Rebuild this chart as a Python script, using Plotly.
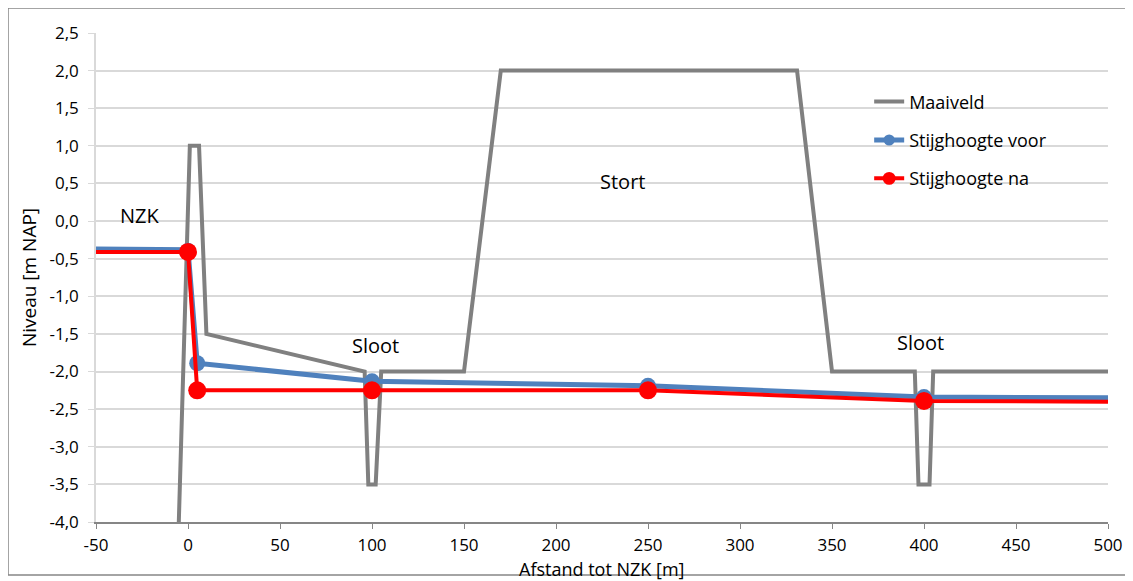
import plotly.graph_objects as go

# Maaiveld (ground level) profile
maaiveld_x = [-5, 1, 6, 10, 96, 98, 102, 105, 150, 170, 331, 350, 395, 397, 403, 405, 500]
maaiveld_y = [-4.0, 1.0, 1.0, -1.5, -2.0, -3.5, -3.5, -2.0, -2.0, 2.0, 2.0, -2.0, -2.0, -3.5, -3.5, -2.0, -2.0]

# Stijghoogte (head) before and after
voor_x = [-50, 0, 5, 100, 250, 400, 500]
voor_y = [-0.37, -0.38, -1.89, -2.13, -2.19, -2.34, -2.35]
na_x = [-50, 0, 5, 100, 250, 400, 500]
na_y = [-0.41, -0.41, -2.25, -2.25, -2.25, -2.39, -2.40]

labels_x = [-26, 102, 236, 398]
labels_y = [0.08, -1.65, 0.52, -1.61]
labels_text = ["NZK", "Sloot", "Stort", "Sloot"]

x_ticks = [-50, 0, 50, 100, 150, 200, 250, 300, 350, 400, 450, 500]
x_tick_labels = ["-50", "0", "50", "100", "150", "200", "250", "300", "350", "400", "450", "500"]
y_ticks = [-4.0, -3.5, -3.0, -2.5, -2.0, -1.5, -1.0, -0.5, 0.0, 0.5, 1.0, 1.5, 2.0, 2.5]
y_tick_labels = ["-4,0", "-3,5", "-3,0", "-2,5", "-2,0", "-1,5", "-1,0", "-0,5",
                 "0,0", "0,5", "1,0", "1,5", "2,0", "2,5"]

FONT = "Open Sans"

fig = go.Figure()

fig.add_trace(go.Scatter(
    x=maaiveld_x, y=maaiveld_y, mode="lines", name="Maaiveld", legendgroup="a",
    line=dict(color="#808080", width=4),
))
fig.add_trace(go.Scatter(
    x=voor_x, y=voor_y, mode="lines+markers", name="Stijghoogte voor", legendgroup="b",
    line=dict(color="#4f81bd", width=5),
    marker=dict(size=[0, 14, 16, 16, 16, 16, 0], color="#4f81bd", opacity=1,
                line=dict(width=0)),
))
fig.add_trace(go.Scatter(
    x=na_x, y=na_y, mode="lines+markers", name="Stijghoogte na", legendgroup="c",
    line=dict(color="#ff0000", width=4),
    marker=dict(size=[0, 18, 18, 18, 18, 18, 0], color="#ff0000", opacity=1,
                line=dict(width=0)),
))

for tx, ty, tt in zip(labels_x, labels_y, labels_text):
    fig.add_annotation(x=tx, y=ty, text=tt, showarrow=False,
                       font=dict(size=20, color="#000000", family=FONT))

# x-axis title as annotation so it can sit just under the tick labels
fig.add_annotation(x=0.5, y=-0.0961, xref="paper", yref="paper",
                   text="Afstand tot NZK [m]", showarrow=False,
                   xanchor="center", yanchor="middle",
                   font=dict(size=18, color="#000000", family=FONT))

# outer border around the chart
fig.add_shape(type="rect", xref="paper", yref="paper",
              x0=(0 - 88) / 1012, x1=(1119 - 88) / 1012,
              y0=-(567 - 514) / 489, y1=1 + (25 - 0) / 489,
              line=dict(color="#868686", width=1.5), layer="below")

fig.update_layout(
    width=1125, height=573,
    margin=dict(l=88, r=25, t=25, b=59),
    plot_bgcolor="white", paper_bgcolor="white",
    font=dict(family=FONT, size=18, color="#000000"),
    showlegend=True,
    legend=dict(x=0.764, y=0.897, xanchor="left", yanchor="top",
                bgcolor="rgba(0,0,0,0)", font=dict(size=18, family=FONT),
                tracegroupgap=12),
    xaxis=dict(
        range=[-50, 500], tickmode="array", tickvals=x_ticks, ticktext=x_tick_labels,
        showgrid=False, zeroline=False, automargin=False,
        showline=True, linecolor="#868686", linewidth=1.5,
        ticks="outside", ticklen=5, tickcolor="#868686",
        tickfont=dict(size=17), ticklabelstandoff=2,
    ),
    yaxis=dict(
        range=[-4, 2.5], tickmode="array", tickvals=y_ticks, ticktext=y_tick_labels,
        showgrid=True, gridcolor="#d9d9d9", gridwidth=1.5, zeroline=False,
        automargin=False,
        showline=True, linecolor="#d9d9d9", linewidth=1.5,
        ticks="outside", ticklen=6, tickcolor="#d9d9d9",
        tickfont=dict(size=17), ticklabelstandoff=6,
        title=dict(text="Niveau [m NAP]", standoff=8, font=dict(size=19)),
    ),
)

fig.write_html("out.html")
